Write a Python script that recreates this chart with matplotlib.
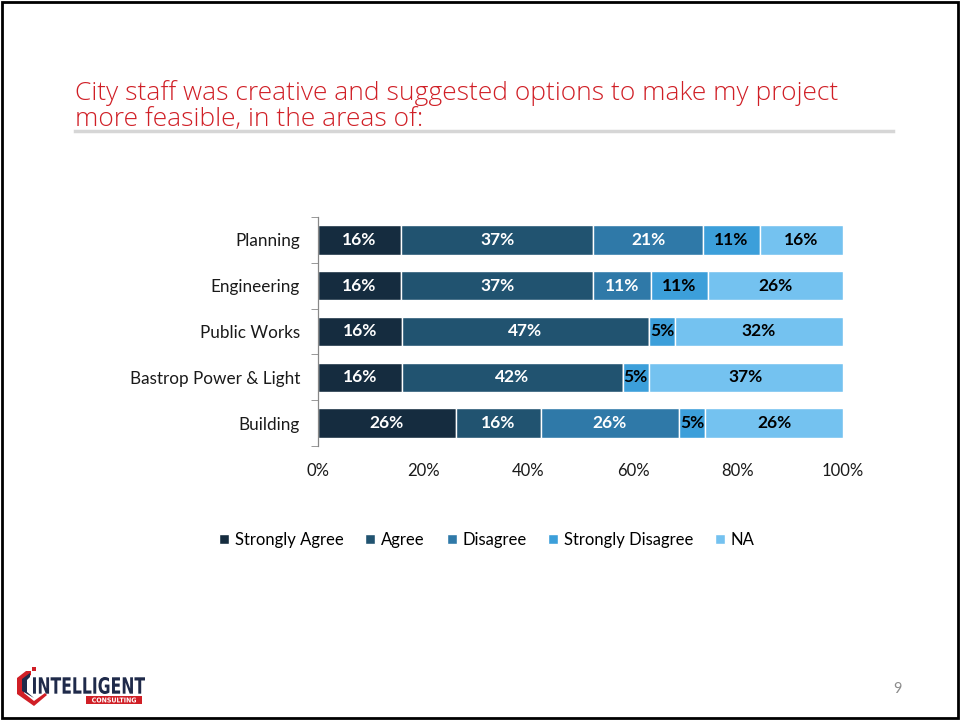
import matplotlib
matplotlib.use("Agg")
import matplotlib.pyplot as plt
import numpy as np
from matplotlib.patches import Rectangle, Polygon, PathPatch
from matplotlib.textpath import TextPath
from matplotlib.font_manager import FontProperties
from matplotlib.transforms import Affine2D, IdentityTransform

categories = ["Planning", "Engineering", "Public Works", "Bastrop Power & Light", "Building"]
series_names = ["Strongly Agree", "Agree", "Disagree", "Strongly Disagree", "NA"]
strongly_agree = [16, 16, 16, 16, 26]
agree = [37, 37, 47, 42, 16]
disagree = [21, 11, 0, 0, 26]
strongly_disagree = [11, 11, 5, 5, 5]
na = [16, 26, 32, 37, 26]
x_ticks = [0, 20, 40, 60, 80, 100]
x_tick_labels = ["0%", "20%", "40%", "60%", "80%", "100%"]

colors = ["#152C3F", "#215370", "#2F79A8", "#3C9FDA", "#74C2F0"]
label_colors = ["white", "white", "white", "black", "black"]

title = "City staff was creative and suggested options to make my project\nmore feasible, in the areas of:"

FONT = ["Lato", "DejaVu Sans"]
plt.rcParams["font.family"] = FONT

fig = plt.figure(figsize=(9.6, 7.21), dpi=100)
W, H = 960, 721


def fx(px):
    return px / W


def fy(py):
    return 1 - py / H


def boxed_text(s, x0, y0, x1, y1, color, weight="bold"):
    """Draw s as a path stretched to fill the pixel box (x0, y0)-(x1, y1), y measured downward."""
    path = TextPath((0, 0), s, size=20, prop=FontProperties(family="DejaVu Sans", weight=weight))
    ext = path.get_extents()
    sx = (x1 - x0) / ext.width
    sy = (y1 - y0) / ext.height
    tr = Affine2D().translate(-ext.x0, -ext.y0).scale(sx, sy).translate(x0, H - y1)
    patch = PathPatch(tr.transform_path(path), transform=IdentityTransform(),
                      facecolor=color, edgecolor="none")
    fig.patches.append(patch)


# slide frame
fig.patches.append(Rectangle((fx(2), fy(718)), fx(956), (716) / H, transform=fig.transFigure,
                             fill=False, edgecolor="black", linewidth=2.0))

# title and rule beneath it
fig.text(fx(75), fy(106), title, color="#D01F26", fontsize=19, ha="left", va="center",
         linespacing=1.1, family=["Open Sans", "DejaVu Sans"], fontweight="light")
fig.add_artist(plt.Line2D([fx(75), fx(893)], [fy(131), fy(131)], transform=fig.transFigure,
                          color="#D6D6D6", linewidth=2.5))

# chart
ax = fig.add_axes([fx(318), fy(446), fx(525), 229 / H])
data = np.array([strongly_agree, agree, disagree, strongly_disagree, na], dtype=float)
totals = data.sum(axis=0)
shares = data / totals * 100
ypos = np.arange(len(categories))
left = np.zeros(len(categories))
for i, name in enumerate(series_names):
    ax.barh(ypos, shares[i], left=left, height=0.64, color=colors[i], edgecolor="white",
            linewidth=1.0, label=name)
    for j in range(len(categories)):
        if data[i, j] > 0:
            ax.text(left[j] + shares[i, j] / 2, ypos[j], f"{int(data[i, j])}%", ha="center",
                    va="center", color=label_colors[i], fontsize=12.5, fontweight="bold")
    left += shares[i]

ax.set_xlim(0, 100)
ax.set_ylim(len(categories) - 0.5, -0.5)
ax.set_yticks(ypos)
ax.set_yticklabels(categories, fontsize=12.3, color="#1A1A1A")
ax.set_yticks(np.arange(-0.5, len(categories), 1.0), minor=True)
ax.tick_params(axis="y", which="major", length=0, pad=13)
ax.tick_params(axis="y", which="minor", length=5, color="#888888", direction="out")
ax.set_xticks(x_ticks)
ax.set_xticklabels(x_tick_labels, fontsize=12, color="#1A1A1A")
ax.tick_params(axis="x", length=0, pad=12)
for s in ["top", "right", "bottom"]:
    ax.spines[s].set_visible(False)
ax.spines["left"].set_color("#888888")
ax.spines["left"].set_linewidth(0.9)

leg = fig.legend(loc="center", bbox_to_anchor=(fx(487), fy(540)), ncol=5, frameon=False,
                 fontsize=12, handlelength=0.6, handleheight=0.6, handletextpad=0.35,
                 columnspacing=1.3)

# page number
fig.text(fx(897), fy(689), "9", color="#8C8C8C", fontsize=10.5, ha="center", va="center")

# logo: shield outline, wordmark and red tag
shield_outer = Polygon([(fx(17), fy(678)), (fx(26), fy(671)), (fx(31), fy(671)),
                        (fx(31), fy(675)), (fx(24), fy(680)), (fx(24), fy(693)),
                        (fx(34), fy(701)), (fx(45), fy(693)), (fx(47), fy(695)),
                        (fx(34), fy(706)), (fx(17), fy(694))], closed=True,
                       transform=fig.transFigure, facecolor="#D01F26", edgecolor="none")
fig.patches.append(shield_outer)
shield_inner = Polygon([(fx(22), fy(679)), (fx(30), fy(673)), (fx(30), fy(677)),
                        (fx(27), fy(680)), (fx(27), fy(692)), (fx(34), fy(698)),
                        (fx(22), fy(691))], closed=True, transform=fig.transFigure,
                       facecolor="#1F2A4A", edgecolor="none")
fig.patches.append(shield_inner)
fig.patches.append(Rectangle((fx(32), fy(671)), fx(4), 4 / H, transform=fig.transFigure,
                             facecolor="#D01F26", edgecolor="none"))
boxed_text("INTELLIGENT", 33, 677, 145, 694, "#1F2A4A")
fig.patches.append(Rectangle((fx(86), fy(704)), fx(56), 8 / H, transform=fig.transFigure,
                             facecolor="#D01F26", edgecolor="none"))
boxed_text("CONSULTING", 92, 697.5, 136, 702.5, "white")

fig.savefig("out.png", dpi=100)
